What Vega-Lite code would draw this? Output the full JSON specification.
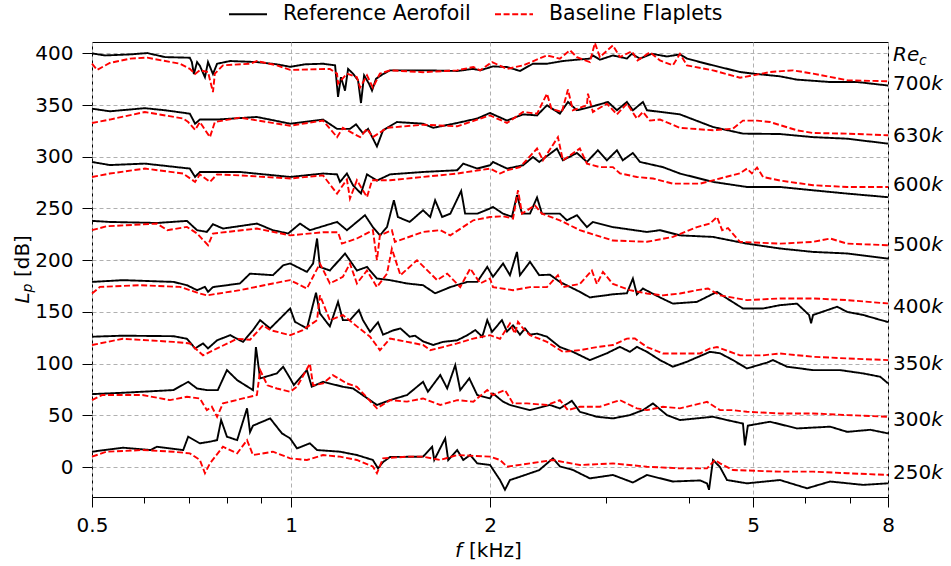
{
"$schema":"https://vega.github.io/schema/vega-lite/v6.json",
"width":796,"height":455,
"autosize":{"type":"none"},
"padding":{"left":92,"top":42,"right":63,"bottom":69},
"background":"white",
"config":{
 "font":"DejaVu Sans",
 "view":{"stroke":"#000000","strokeWidth":1},
 "axis":{"labelFont":"DejaVu Sans","labelFontSize":20,"labelColor":"#000000","tickColor":"#000000","tickWidth":1,"domain":false,"gridColor":"#b0b0b0","gridDash":[4,3],"gridWidth":1,"labelOverlap":false,"labelFlush":false},
 "axisX":{"tickSize":10,"labelPadding":8},
 "axisY":{"tickSize":10,"labelPadding":9}
},
"datasets":{
"d":[
{"s":"R","g":700,"f":0.5,"L":400},{"s":"R","g":700,"f":0.523,"L":398},{"s":"R","g":700,"f":0.571,"L":399},{"s":"R","g":700,"f":0.606,"L":400.3},{"s":"R","g":700,"f":0.645,"L":396.4},{"s":"R","g":700,"f":0.703,"L":395.8},{"s":"R","g":700,"f":0.708,"L":391.6},{"s":"R","g":700,"f":0.713,"L":380},{"s":"R","g":700,"f":0.721,"L":391.6},{"s":"R","g":700,"f":0.728,"L":388},{"s":"R","g":700,"f":0.741,"L":377},{"s":"R","g":700,"f":0.749,"L":391.6},{"s":"R","g":700,"f":0.762,"L":380},{"s":"R","g":700,"f":0.773,"L":390},{"s":"R","g":700,"f":0.809,"L":392.6},{"s":"R","g":700,"f":0.888,"L":391.6},{"s":"R","g":700,"f":0.952,"L":389.4},{"s":"R","g":700,"f":0.997,"L":387},{"s":"R","g":700,"f":1.05,"L":389.4},{"s":"R","g":700,"f":1.118,"L":390},{"s":"R","g":700,"f":1.166,"L":388.4},{"s":"R","g":700,"f":1.178,"L":358},{"s":"R","g":700,"f":1.19,"L":377},{"s":"R","g":700,"f":1.207,"L":364},{"s":"R","g":700,"f":1.22,"L":385},{"s":"R","g":700,"f":1.241,"L":380.4},{"s":"R","g":700,"f":1.263,"L":374},{"s":"R","g":700,"f":1.276,"L":352},{"s":"R","g":700,"f":1.29,"L":378.7},{"s":"R","g":700,"f":1.312,"L":370.7},{"s":"R","g":700,"f":1.326,"L":364},{"s":"R","g":700,"f":1.345,"L":375.5},{"s":"R","g":700,"f":1.378,"L":380},{"s":"R","g":700,"f":1.412,"L":383.6},{"s":"R","g":700,"f":1.584,"L":383.6},{"s":"R","g":700,"f":1.784,"L":383},{"s":"R","g":700,"f":1.887,"L":385},{"s":"R","g":700,"f":1.933,"L":383.6},{"s":"R","g":700,"f":2.021,"L":387.4},{"s":"R","g":700,"f":2.122,"L":386.8},{"s":"R","g":700,"f":2.22,"L":383},{"s":"R","g":700,"f":2.323,"L":390},{"s":"R","g":700,"f":2.439,"L":390},{"s":"R","g":700,"f":2.578,"L":392.6},{"s":"R","g":700,"f":2.707,"L":393.9},{"s":"R","g":700,"f":2.832,"L":394.9},{"s":"R","g":700,"f":2.862,"L":398},{"s":"R","g":700,"f":2.933,"L":393.9},{"s":"R","g":700,"f":3.069,"L":398},{"s":"R","g":700,"f":3.222,"L":395},{"s":"R","g":700,"f":3.278,"L":399.6},{"s":"R","g":700,"f":3.372,"L":394.9},{"s":"R","g":700,"f":3.515,"L":399.6},{"s":"R","g":700,"f":3.704,"L":397},{"s":"R","g":700,"f":3.876,"L":399},{"s":"R","g":700,"f":3.971,"L":395},{"s":"R","g":700,"f":4.157,"L":391.6},{"s":"R","g":700,"f":4.349,"L":388.4},{"s":"R","g":700,"f":4.777,"L":382},{"s":"R","g":700,"f":5.0,"L":380.4},{"s":"R","g":700,"f":5.492,"L":377.8},{"s":"R","g":700,"f":5.827,"L":374.6},{"s":"R","g":700,"f":6.54,"L":372.3},{"s":"R","g":700,"f":7.186,"L":372.3},{"s":"R","g":700,"f":7.977,"L":369},{"s":"R","g":700,"f":8,"L":369},
{"s":"B","g":700,"f":0.5,"L":390},{"s":"B","g":700,"f":0.509,"L":384},{"s":"B","g":700,"f":0.532,"L":390.7},{"s":"B","g":700,"f":0.571,"L":394.9},{"s":"B","g":700,"f":0.606,"L":395.9},{"s":"B","g":700,"f":0.64,"L":393},{"s":"B","g":700,"f":0.679,"L":390},{"s":"B","g":700,"f":0.703,"L":385},{"s":"B","g":700,"f":0.716,"L":380},{"s":"B","g":700,"f":0.728,"L":383.6},{"s":"B","g":700,"f":0.749,"L":382},{"s":"B","g":700,"f":0.762,"L":362.6},{"s":"B","g":700,"f":0.767,"L":380.4},{"s":"B","g":700,"f":0.789,"L":388.4},{"s":"B","g":700,"f":0.867,"L":390},{"s":"B","g":700,"f":0.888,"L":392.6},{"s":"B","g":700,"f":0.952,"L":388.4},{"s":"B","g":700,"f":0.997,"L":384},{"s":"B","g":700,"f":1.145,"L":385},{"s":"B","g":700,"f":1.174,"L":380.4},{"s":"B","g":700,"f":1.178,"L":370.7},{"s":"B","g":700,"f":1.215,"L":380.4},{"s":"B","g":700,"f":1.258,"L":377},{"s":"B","g":700,"f":1.272,"L":367},{"s":"B","g":700,"f":1.303,"L":378.7},{"s":"B","g":700,"f":1.33,"L":367},{"s":"B","g":700,"f":1.363,"L":380.4},{"s":"B","g":700,"f":1.412,"L":383.6},{"s":"B","g":700,"f":1.584,"L":381.8},{"s":"B","g":700,"f":1.784,"L":383.6},{"s":"B","g":700,"f":1.887,"L":386.8},{"s":"B","g":700,"f":1.933,"L":383.6},{"s":"B","g":700,"f":2.014,"L":391.6},{"s":"B","g":700,"f":2.122,"L":385},{"s":"B","g":700,"f":2.244,"L":388.4},{"s":"B","g":700,"f":2.439,"L":398},{"s":"B","g":700,"f":2.551,"L":394.9},{"s":"B","g":700,"f":2.642,"L":403},{"s":"B","g":700,"f":2.707,"L":396.4},{"s":"B","g":700,"f":2.832,"L":391.6},{"s":"B","g":700,"f":2.882,"L":410},{"s":"B","g":700,"f":2.933,"L":396.4},{"s":"B","g":700,"f":3.069,"L":407.7},{"s":"B","g":700,"f":3.144,"L":396.4},{"s":"B","g":700,"f":3.278,"L":402},{"s":"B","g":700,"f":3.344,"L":393.2},{"s":"B","g":700,"f":3.491,"L":401},{"s":"B","g":700,"f":3.615,"L":393.2},{"s":"B","g":700,"f":3.782,"L":388.4},{"s":"B","g":700,"f":3.876,"L":399.6},{"s":"B","g":700,"f":3.971,"L":388.4},{"s":"B","g":700,"f":4.349,"L":383.6},{"s":"B","g":700,"f":4.777,"L":376.5},{"s":"B","g":700,"f":5.0,"L":378.7},{"s":"B","g":700,"f":5.305,"L":382},{"s":"B","g":700,"f":5.747,"L":383.6},{"s":"B","g":700,"f":6.162,"L":380.4},{"s":"B","g":700,"f":6.94,"L":374},{"s":"B","g":700,"f":7.977,"L":373},{"s":"B","g":700,"f":8,"L":373},
{"s":"R","g":630,"f":0.5,"L":346.5},{"s":"R","g":630,"f":0.532,"L":344},{"s":"R","g":630,"f":0.601,"L":347},{"s":"R","g":630,"f":0.645,"L":345},{"s":"R","g":630,"f":0.703,"L":341.7},{"s":"R","g":630,"f":0.716,"L":332},{"s":"R","g":630,"f":0.728,"L":336},{"s":"R","g":630,"f":0.773,"L":336},{"s":"R","g":630,"f":0.888,"L":338.5},{"s":"R","g":630,"f":0.997,"L":332},{"s":"R","g":630,"f":1.118,"L":336},{"s":"R","g":630,"f":1.174,"L":327},{"s":"R","g":630,"f":1.228,"L":327},{"s":"R","g":630,"f":1.254,"L":331.4},{"s":"R","g":630,"f":1.285,"L":322.7},{"s":"R","g":630,"f":1.308,"L":327},{"s":"R","g":630,"f":1.349,"L":310},{"s":"R","g":630,"f":1.378,"L":325.6},{"s":"R","g":630,"f":1.446,"L":333.6},{"s":"R","g":630,"f":1.584,"L":332},{"s":"R","g":630,"f":1.641,"L":328},{"s":"R","g":630,"f":1.784,"L":332.7},{"s":"R","g":630,"f":1.913,"L":337},{"s":"R","g":630,"f":2.0,"L":342.4},{"s":"R","g":630,"f":2.122,"L":335},{"s":"R","g":630,"f":2.244,"L":341},{"s":"R","g":630,"f":2.356,"L":340},{"s":"R","g":630,"f":2.439,"L":349.8},{"s":"R","g":630,"f":2.551,"L":341.7},{"s":"R","g":630,"f":2.624,"L":353},{"s":"R","g":630,"f":2.707,"L":345},{"s":"R","g":630,"f":2.832,"L":348},{"s":"R","g":630,"f":3.016,"L":353},{"s":"R","g":630,"f":3.112,"L":345},{"s":"R","g":630,"f":3.222,"L":353},{"s":"R","g":630,"f":3.29,"L":345},{"s":"R","g":630,"f":3.407,"L":353},{"s":"R","g":630,"f":3.455,"L":345},{"s":"R","g":630,"f":3.876,"L":341},{"s":"R","g":630,"f":4.349,"L":328.8},{"s":"R","g":630,"f":4.827,"L":322.4},{"s":"R","g":630,"f":5.492,"L":322},{"s":"R","g":630,"f":6.162,"L":319},{"s":"R","g":630,"f":6.94,"L":317.5},{"s":"R","g":630,"f":7.977,"L":312.8},{"s":"R","g":630,"f":8,"L":312.5},
{"s":"B","g":630,"f":0.5,"L":332.7},{"s":"B","g":630,"f":0.532,"L":336},{"s":"B","g":630,"f":0.601,"L":343.3},{"s":"B","g":630,"f":0.687,"L":337},{"s":"B","g":630,"f":0.699,"L":333.6},{"s":"B","g":630,"f":0.716,"L":326},{"s":"B","g":630,"f":0.728,"L":333.6},{"s":"B","g":630,"f":0.754,"L":319},{"s":"B","g":630,"f":0.767,"L":333.6},{"s":"B","g":630,"f":0.837,"L":337.9},{"s":"B","g":630,"f":0.997,"L":330},{"s":"B","g":630,"f":1.118,"L":335},{"s":"B","g":630,"f":1.174,"L":319},{"s":"B","g":630,"f":1.198,"L":328},{"s":"B","g":630,"f":1.272,"L":319},{"s":"B","g":630,"f":1.303,"L":327},{"s":"B","g":630,"f":1.33,"L":319},{"s":"B","g":630,"f":1.397,"L":328},{"s":"B","g":630,"f":1.584,"L":331},{"s":"B","g":630,"f":1.784,"L":329.5},{"s":"B","g":630,"f":2.0,"L":340},{"s":"B","g":630,"f":2.122,"L":332.7},{"s":"B","g":630,"f":2.244,"L":343.3},{"s":"B","g":630,"f":2.356,"L":341.7},{"s":"B","g":630,"f":2.439,"L":361},{"s":"B","g":630,"f":2.477,"L":346.5},{"s":"B","g":630,"f":2.569,"L":343.3},{"s":"B","g":630,"f":2.624,"L":365},{"s":"B","g":630,"f":2.669,"L":345},{"s":"B","g":630,"f":2.803,"L":349.8},{"s":"B","g":630,"f":2.813,"L":361},{"s":"B","g":630,"f":2.862,"L":343.3},{"s":"B","g":630,"f":3.005,"L":351.4},{"s":"B","g":630,"f":3.112,"L":341},{"s":"B","g":630,"f":3.222,"L":351.4},{"s":"B","g":630,"f":3.336,"L":337},{"s":"B","g":630,"f":3.407,"L":343.3},{"s":"B","g":630,"f":3.491,"L":335},{"s":"B","g":630,"f":3.615,"L":336},{"s":"B","g":630,"f":3.876,"L":328},{"s":"B","g":630,"f":4.349,"L":325.6},{"s":"B","g":630,"f":4.662,"L":327.2},{"s":"B","g":630,"f":4.827,"L":335},{"s":"B","g":630,"f":5.07,"L":335},{"s":"B","g":630,"f":5.305,"L":333.6},{"s":"B","g":630,"f":5.827,"L":325.6},{"s":"B","g":630,"f":6.162,"L":323},{"s":"B","g":630,"f":6.94,"L":322.4},{"s":"B","g":630,"f":7.977,"L":320.8},{"s":"B","g":630,"f":8,"L":320.8},
{"s":"R","g":600,"f":0.5,"L":295},{"s":"R","g":600,"f":0.532,"L":292},{"s":"R","g":600,"f":0.601,"L":293.4},{"s":"R","g":600,"f":0.703,"L":288.6},{"s":"R","g":600,"f":0.716,"L":280.5},{"s":"R","g":600,"f":0.728,"L":285.3},{"s":"R","g":600,"f":0.837,"L":285.3},{"s":"R","g":600,"f":0.997,"L":280.5},{"s":"R","g":600,"f":1.118,"L":283.8},{"s":"R","g":600,"f":1.174,"L":283},{"s":"R","g":600,"f":1.186,"L":275.7},{"s":"R","g":600,"f":1.215,"L":283.8},{"s":"R","g":600,"f":1.241,"L":272.5},{"s":"R","g":600,"f":1.276,"L":264.5},{"s":"R","g":600,"f":1.303,"L":283},{"s":"R","g":600,"f":1.349,"L":277},{"s":"R","g":600,"f":1.412,"L":283},{"s":"R","g":600,"f":1.584,"L":285.3},{"s":"R","g":600,"f":1.784,"L":287},{"s":"R","g":600,"f":1.822,"L":293.4},{"s":"R","g":600,"f":1.913,"L":288.6},{"s":"R","g":600,"f":2.0,"L":291.8},{"s":"R","g":600,"f":2.021,"L":295},{"s":"R","g":600,"f":2.122,"L":288.6},{"s":"R","g":600,"f":2.244,"L":291.8},{"s":"R","g":600,"f":2.323,"L":299.8},{"s":"R","g":600,"f":2.374,"L":295},{"s":"R","g":600,"f":2.525,"L":307.9},{"s":"R","g":600,"f":2.578,"L":296.6},{"s":"R","g":600,"f":2.707,"L":303.7},{"s":"R","g":600,"f":2.803,"L":295},{"s":"R","g":600,"f":2.912,"L":306.3},{"s":"R","g":600,"f":3.005,"L":296.6},{"s":"R","g":600,"f":3.112,"L":306.3},{"s":"R","g":600,"f":3.176,"L":296.6},{"s":"R","g":600,"f":3.29,"L":303.7},{"s":"R","g":600,"f":3.372,"L":295},{"s":"R","g":600,"f":3.653,"L":290},{"s":"R","g":600,"f":3.876,"L":283.8},{"s":"R","g":600,"f":4.349,"L":275.7},{"s":"R","g":600,"f":4.895,"L":270.8},{"s":"R","g":600,"f":5.492,"L":270.8},{"s":"R","g":600,"f":6.162,"L":267.6},{"s":"R","g":600,"f":6.94,"L":264.4},{"s":"R","g":600,"f":7.977,"L":261},{"s":"R","g":600,"f":8,"L":261},
{"s":"B","g":600,"f":0.5,"L":280.5},{"s":"B","g":600,"f":0.532,"L":283.8},{"s":"B","g":600,"f":0.601,"L":288.6},{"s":"B","g":600,"f":0.687,"L":283.8},{"s":"B","g":600,"f":0.716,"L":275.7},{"s":"B","g":600,"f":0.728,"L":283},{"s":"B","g":600,"f":0.754,"L":275.7},{"s":"B","g":600,"f":0.773,"L":283},{"s":"B","g":600,"f":0.837,"L":282},{"s":"B","g":600,"f":0.997,"L":279},{"s":"B","g":600,"f":1.118,"L":282},{"s":"B","g":600,"f":1.174,"L":264.4},{"s":"B","g":600,"f":1.215,"L":278},{"s":"B","g":600,"f":1.228,"L":259.6},{"s":"B","g":600,"f":1.258,"L":277.3},{"s":"B","g":600,"f":1.303,"L":261},{"s":"B","g":600,"f":1.326,"L":277.3},{"s":"B","g":600,"f":1.412,"L":277.3},{"s":"B","g":600,"f":1.584,"L":280.5},{"s":"B","g":600,"f":1.784,"L":283.8},{"s":"B","g":600,"f":2.0,"L":288.6},{"s":"B","g":600,"f":2.071,"L":283.8},{"s":"B","g":600,"f":2.122,"L":287},{"s":"B","g":600,"f":2.22,"L":290},{"s":"B","g":600,"f":2.356,"L":308},{"s":"B","g":600,"f":2.405,"L":296.6},{"s":"B","g":600,"f":2.534,"L":319},{"s":"B","g":600,"f":2.578,"L":296.6},{"s":"B","g":600,"f":2.735,"L":308},{"s":"B","g":600,"f":2.803,"L":293.4},{"s":"B","g":600,"f":2.933,"L":290},{"s":"B","g":600,"f":3.069,"L":290},{"s":"B","g":600,"f":3.144,"L":284},{"s":"B","g":600,"f":3.336,"L":280.5},{"s":"B","g":600,"f":3.528,"L":279},{"s":"B","g":600,"f":3.782,"L":274},{"s":"B","g":600,"f":4.157,"L":274},{"s":"B","g":600,"f":4.456,"L":279},{"s":"B","g":600,"f":4.777,"L":284},{"s":"B","g":600,"f":4.895,"L":288.6},{"s":"B","g":600,"f":4.98,"L":284},{"s":"B","g":600,"f":5.07,"L":289.6},{"s":"B","g":600,"f":5.177,"L":280.5},{"s":"B","g":600,"f":5.492,"L":277},{"s":"B","g":600,"f":6.162,"L":272.5},{"s":"B","g":600,"f":6.94,"L":270.8},{"s":"B","g":600,"f":7.977,"L":270.8},{"s":"B","g":600,"f":8,"L":270.8},
{"s":"R","g":500,"f":0.5,"L":238},{"s":"R","g":500,"f":0.532,"L":237},{"s":"R","g":500,"f":0.627,"L":236},{"s":"R","g":500,"f":0.696,"L":238},{"s":"R","g":500,"f":0.721,"L":229},{"s":"R","g":500,"f":0.746,"L":227.4},{"s":"R","g":500,"f":0.762,"L":234.8},{"s":"R","g":500,"f":0.789,"L":230.6},{"s":"R","g":500,"f":0.888,"L":235.4},{"s":"R","g":500,"f":0.939,"L":229},{"s":"R","g":500,"f":0.99,"L":225.8},{"s":"R","g":500,"f":1.032,"L":235.4},{"s":"R","g":500,"f":1.068,"L":229},{"s":"R","g":500,"f":1.174,"L":237},{"s":"R","g":500,"f":1.215,"L":229},{"s":"R","g":500,"f":1.294,"L":243.5},{"s":"R","g":500,"f":1.33,"L":232},{"s":"R","g":500,"f":1.363,"L":224},{"s":"R","g":500,"f":1.397,"L":232},{"s":"R","g":500,"f":1.431,"L":258},{"s":"R","g":500,"f":1.451,"L":241.8},{"s":"R","g":500,"f":1.512,"L":237},{"s":"R","g":500,"f":1.584,"L":248.3},{"s":"R","g":500,"f":1.624,"L":241.8},{"s":"R","g":500,"f":1.652,"L":258},{"s":"R","g":500,"f":1.693,"L":241.8},{"s":"R","g":500,"f":1.742,"L":245},{"s":"R","g":500,"f":1.809,"L":267},{"s":"R","g":500,"f":1.834,"L":245},{"s":"R","g":500,"f":1.913,"L":245},{"s":"R","g":500,"f":2.0,"L":250},{"s":"R","g":500,"f":2.021,"L":251.5},{"s":"R","g":500,"f":2.093,"L":245},{"s":"R","g":500,"f":2.159,"L":242},{"s":"R","g":500,"f":2.197,"L":262.8},{"s":"R","g":500,"f":2.236,"L":245},{"s":"R","g":500,"f":2.299,"L":245},{"s":"R","g":500,"f":2.356,"L":260.6},{"s":"R","g":500,"f":2.397,"L":245},{"s":"R","g":500,"f":2.551,"L":245},{"s":"R","g":500,"f":2.614,"L":238.6},{"s":"R","g":500,"f":2.707,"L":243.5},{"s":"R","g":500,"f":2.803,"L":232},{"s":"R","g":500,"f":2.862,"L":237},{"s":"R","g":500,"f":3.069,"L":232},{"s":"R","g":500,"f":3.455,"L":227.3},{"s":"R","g":500,"f":3.615,"L":229},{"s":"R","g":500,"f":3.876,"L":224},{"s":"R","g":500,"f":4.349,"L":222.5},{"s":"R","g":500,"f":4.895,"L":216},{"s":"R","g":500,"f":5.492,"L":211.3},{"s":"R","g":500,"f":6.162,"L":208},{"s":"R","g":500,"f":6.94,"L":206.5},{"s":"R","g":500,"f":7.977,"L":201.6},{"s":"R","g":500,"f":8,"L":201.6},
{"s":"B","g":500,"f":0.5,"L":229},{"s":"B","g":500,"f":0.526,"L":232.8},{"s":"B","g":500,"f":0.627,"L":235.4},{"s":"B","g":500,"f":0.65,"L":229},{"s":"B","g":500,"f":0.696,"L":232.2},{"s":"B","g":500,"f":0.721,"L":225.8},{"s":"B","g":500,"f":0.749,"L":214.5},{"s":"B","g":500,"f":0.762,"L":225.8},{"s":"B","g":500,"f":0.888,"L":230.6},{"s":"B","g":500,"f":0.997,"L":224},{"s":"B","g":500,"f":1.118,"L":227},{"s":"B","g":500,"f":1.178,"L":227},{"s":"B","g":500,"f":1.194,"L":216},{"s":"B","g":500,"f":1.258,"L":221},{"s":"B","g":500,"f":1.33,"L":229},{"s":"B","g":500,"f":1.349,"L":200},{"s":"B","g":500,"f":1.363,"L":224},{"s":"B","g":500,"f":1.421,"L":229},{"s":"B","g":500,"f":1.436,"L":217.7},{"s":"B","g":500,"f":1.584,"L":227.3},{"s":"B","g":500,"f":1.682,"L":229},{"s":"B","g":500,"f":1.742,"L":224},{"s":"B","g":500,"f":1.887,"L":238.6},{"s":"B","g":500,"f":2.0,"L":241.8},{"s":"B","g":500,"f":2.093,"L":242.5},{"s":"B","g":500,"f":2.167,"L":240.3},{"s":"B","g":500,"f":2.205,"L":267.6},{"s":"B","g":500,"f":2.236,"L":245},{"s":"B","g":500,"f":2.339,"L":253},{"s":"B","g":500,"f":2.397,"L":245},{"s":"B","g":500,"f":2.551,"L":238.6},{"s":"B","g":500,"f":2.735,"L":229},{"s":"B","g":500,"f":3.069,"L":219},{"s":"B","g":500,"f":3.455,"L":217.8},{"s":"B","g":500,"f":3.782,"L":222.5},{"s":"B","g":500,"f":4.113,"L":232},{"s":"B","g":500,"f":4.304,"L":235.4},{"s":"B","g":500,"f":4.41,"L":241.8},{"s":"B","g":500,"f":4.49,"L":229},{"s":"B","g":500,"f":4.582,"L":231},{"s":"B","g":500,"f":4.777,"L":217.7},{"s":"B","g":500,"f":5.492,"L":216},{"s":"B","g":500,"f":6.162,"L":217.7},{"s":"B","g":500,"f":6.54,"L":221},{"s":"B","g":500,"f":6.94,"L":216},{"s":"B","g":500,"f":7.977,"L":214.5},{"s":"B","g":500,"f":8,"L":214.5},
{"s":"R","g":400,"f":0.5,"L":179},{"s":"R","g":400,"f":0.557,"L":180.7},{"s":"R","g":400,"f":0.664,"L":179},{"s":"R","g":400,"f":0.696,"L":175.8},{"s":"R","g":400,"f":0.721,"L":171},{"s":"R","g":400,"f":0.741,"L":174.2},{"s":"R","g":400,"f":0.749,"L":169.4},{"s":"R","g":400,"f":0.762,"L":174},{"s":"R","g":400,"f":0.837,"L":177.5},{"s":"R","g":400,"f":0.867,"L":187},{"s":"R","g":400,"f":0.939,"L":185.5},{"s":"R","g":400,"f":0.973,"L":195},{"s":"R","g":400,"f":0.997,"L":196.8},{"s":"R","g":400,"f":1.057,"L":188.7},{"s":"R","g":400,"f":1.08,"L":196.8},{"s":"R","g":400,"f":1.095,"L":221},{"s":"R","g":400,"f":1.106,"L":193.5},{"s":"R","g":400,"f":1.145,"L":190},{"s":"R","g":400,"f":1.207,"L":206.5},{"s":"R","g":400,"f":1.258,"L":190},{"s":"R","g":400,"f":1.303,"L":193.5},{"s":"R","g":400,"f":1.349,"L":182.3},{"s":"R","g":400,"f":1.412,"L":180.7},{"s":"R","g":400,"f":1.498,"L":177.5},{"s":"R","g":400,"f":1.584,"L":175.8},{"s":"R","g":400,"f":1.652,"L":168},{"s":"R","g":400,"f":1.742,"L":174},{"s":"R","g":400,"f":1.848,"L":179},{"s":"R","g":400,"f":1.913,"L":179},{"s":"R","g":400,"f":1.981,"L":193.5},{"s":"R","g":400,"f":2.021,"L":183.9},{"s":"R","g":400,"f":2.093,"L":196.8},{"s":"R","g":400,"f":2.144,"L":185.5},{"s":"R","g":400,"f":2.197,"L":208},{"s":"R","g":400,"f":2.22,"L":185.5},{"s":"R","g":400,"f":2.299,"L":198.4},{"s":"R","g":400,"f":2.374,"L":185.5},{"s":"R","g":400,"f":2.464,"L":186},{"s":"R","g":400,"f":2.551,"L":179},{"s":"R","g":400,"f":2.735,"L":169.4},{"s":"R","g":400,"f":2.832,"L":164},{"s":"R","g":400,"f":3.069,"L":167},{"s":"R","g":400,"f":3.222,"L":168},{"s":"R","g":400,"f":3.29,"L":182.3},{"s":"R","g":400,"f":3.336,"L":167},{"s":"R","g":400,"f":3.407,"L":172.6},{"s":"R","g":400,"f":3.615,"L":164},{"s":"R","g":400,"f":3.782,"L":158},{"s":"R","g":400,"f":4.113,"L":159.7},{"s":"R","g":400,"f":4.41,"L":169.4},{"s":"R","g":400,"f":4.566,"L":163},{"s":"R","g":400,"f":4.827,"L":153.3},{"s":"R","g":400,"f":5.177,"L":153.3},{"s":"R","g":400,"f":5.492,"L":156.5},{"s":"R","g":400,"f":5.827,"L":158},{"s":"R","g":400,"f":6.077,"L":147},{"s":"R","g":400,"f":6.12,"L":139},{"s":"R","g":400,"f":6.162,"L":147},{"s":"R","g":400,"f":6.702,"L":155},{"s":"R","g":400,"f":6.94,"L":150},{"s":"R","g":400,"f":7.338,"L":147},{"s":"R","g":400,"f":7.977,"L":140.4},{"s":"R","g":400,"f":8,"L":140},
{"s":"B","g":400,"f":0.5,"L":167.8},{"s":"B","g":400,"f":0.514,"L":174.2},{"s":"B","g":400,"f":0.592,"L":175.8},{"s":"B","g":400,"f":0.679,"L":174.2},{"s":"B","g":400,"f":0.728,"L":167.8},{"s":"B","g":400,"f":0.746,"L":166},{"s":"B","g":400,"f":0.837,"L":171},{"s":"B","g":400,"f":0.939,"L":177.5},{"s":"B","g":400,"f":0.997,"L":180.7},{"s":"B","g":400,"f":1.057,"L":172.6},{"s":"B","g":400,"f":1.106,"L":196.8},{"s":"B","g":400,"f":1.145,"L":177.5},{"s":"B","g":400,"f":1.198,"L":183.9},{"s":"B","g":400,"f":1.228,"L":196.8},{"s":"B","g":400,"f":1.258,"L":177.5},{"s":"B","g":400,"f":1.303,"L":190},{"s":"B","g":400,"f":1.349,"L":174},{"s":"B","g":400,"f":1.397,"L":187},{"s":"B","g":400,"f":1.421,"L":211},{"s":"B","g":400,"f":1.464,"L":185.5},{"s":"B","g":400,"f":1.551,"L":200},{"s":"B","g":400,"f":1.664,"L":180.7},{"s":"B","g":400,"f":1.723,"L":187},{"s":"B","g":400,"f":1.803,"L":174},{"s":"B","g":400,"f":1.867,"L":192},{"s":"B","g":400,"f":1.933,"L":177.5},{"s":"B","g":400,"f":2.0,"L":182.3},{"s":"B","g":400,"f":2.021,"L":174},{"s":"B","g":400,"f":2.167,"L":171},{"s":"B","g":400,"f":2.299,"L":174},{"s":"B","g":400,"f":2.439,"L":174},{"s":"B","g":400,"f":2.534,"L":185.5},{"s":"B","g":400,"f":2.578,"L":174},{"s":"B","g":400,"f":2.735,"L":177},{"s":"B","g":400,"f":2.852,"L":190},{"s":"B","g":400,"f":2.902,"L":177},{"s":"B","g":400,"f":2.964,"L":188.7},{"s":"B","g":400,"f":3.069,"L":177},{"s":"B","g":400,"f":3.256,"L":171},{"s":"B","g":400,"f":3.455,"L":167.8},{"s":"B","g":400,"f":3.653,"L":166},{"s":"B","g":400,"f":3.876,"L":167.8},{"s":"B","g":400,"f":4.113,"L":171},{"s":"B","g":400,"f":4.274,"L":172.6},{"s":"B","g":400,"f":4.456,"L":166},{"s":"B","g":400,"f":4.895,"L":161.4},{"s":"B","g":400,"f":5.492,"L":163},{"s":"B","g":400,"f":6.162,"L":163},{"s":"B","g":400,"f":6.94,"L":161.4},{"s":"B","g":400,"f":7.977,"L":158.2},{"s":"B","g":400,"f":8,"L":158.2},
{"s":"R","g":350,"f":0.5,"L":126},{"s":"R","g":350,"f":0.557,"L":127},{"s":"R","g":350,"f":0.664,"L":126.5},{"s":"R","g":350,"f":0.696,"L":124},{"s":"R","g":350,"f":0.716,"L":114.7},{"s":"R","g":350,"f":0.736,"L":119.5},{"s":"R","g":350,"f":0.749,"L":114.7},{"s":"R","g":350,"f":0.773,"L":122.5},{"s":"R","g":350,"f":0.809,"L":127.5},{"s":"R","g":350,"f":0.846,"L":121},{"s":"R","g":350,"f":0.876,"L":132.4},{"s":"R","g":350,"f":0.898,"L":142},{"s":"R","g":350,"f":0.93,"L":134},{"s":"R","g":350,"f":0.997,"L":153.3},{"s":"R","g":350,"f":1.014,"L":140.4},{"s":"R","g":350,"f":1.057,"L":134},{"s":"R","g":350,"f":1.091,"L":168.5},{"s":"R","g":350,"f":1.106,"L":148.5},{"s":"R","g":350,"f":1.145,"L":136},{"s":"R","g":350,"f":1.178,"L":159.7},{"s":"R","g":350,"f":1.198,"L":142},{"s":"R","g":350,"f":1.228,"L":142},{"s":"R","g":350,"f":1.267,"L":151.7},{"s":"R","g":350,"f":1.285,"L":142},{"s":"R","g":350,"f":1.317,"L":130.7},{"s":"R","g":350,"f":1.354,"L":140},{"s":"R","g":350,"f":1.378,"L":128},{"s":"R","g":350,"f":1.426,"L":132},{"s":"R","g":350,"f":1.464,"L":134},{"s":"R","g":350,"f":1.512,"L":126},{"s":"R","g":350,"f":1.54,"L":127},{"s":"R","g":350,"f":1.584,"L":121.5},{"s":"R","g":350,"f":1.641,"L":118},{"s":"R","g":350,"f":1.697,"L":121},{"s":"R","g":350,"f":1.784,"L":122.5},{"s":"R","g":350,"f":1.848,"L":127.5},{"s":"R","g":350,"f":1.9,"L":132.4},{"s":"R","g":350,"f":1.947,"L":126},{"s":"R","g":350,"f":1.981,"L":142},{"s":"R","g":350,"f":2.014,"L":130.7},{"s":"R","g":350,"f":2.085,"L":142},{"s":"R","g":350,"f":2.122,"L":131},{"s":"R","g":350,"f":2.167,"L":137},{"s":"R","g":350,"f":2.22,"L":128},{"s":"R","g":350,"f":2.259,"L":134},{"s":"R","g":350,"f":2.299,"L":128},{"s":"R","g":350,"f":2.356,"L":129},{"s":"R","g":350,"f":2.439,"L":126},{"s":"R","g":350,"f":2.551,"L":116},{"s":"R","g":350,"f":2.669,"L":111.4},{"s":"R","g":350,"f":2.832,"L":103.4},{"s":"R","g":350,"f":3.005,"L":110},{"s":"R","g":350,"f":3.144,"L":116.2},{"s":"R","g":350,"f":3.256,"L":111.4},{"s":"R","g":350,"f":3.336,"L":116.2},{"s":"R","g":350,"f":3.455,"L":111.4},{"s":"R","g":350,"f":3.615,"L":103.4},{"s":"R","g":350,"f":3.782,"L":97},{"s":"R","g":350,"f":3.971,"L":101.8},{"s":"R","g":350,"f":4.304,"L":111.4},{"s":"R","g":350,"f":4.456,"L":110},{"s":"R","g":350,"f":4.662,"L":103.4},{"s":"R","g":350,"f":4.895,"L":95.3},{"s":"R","g":350,"f":5.25,"L":101},{"s":"R","g":350,"f":5.36,"L":103.4},{"s":"R","g":350,"f":5.628,"L":97},{"s":"R","g":350,"f":6.162,"L":93.7},{"s":"R","g":350,"f":6.772,"L":93.7},{"s":"R","g":350,"f":7.338,"L":90.5},{"s":"R","g":350,"f":7.786,"L":87.3},{"s":"R","g":350,"f":8,"L":80.9},
{"s":"B","g":350,"f":0.5,"L":118},{"s":"B","g":350,"f":0.557,"L":124},{"s":"B","g":350,"f":0.664,"L":121},{"s":"B","g":350,"f":0.703,"L":119.5},{"s":"B","g":350,"f":0.736,"L":108},{"s":"B","g":350,"f":0.773,"L":114.7},{"s":"B","g":350,"f":0.829,"L":124},{"s":"B","g":350,"f":0.867,"L":123},{"s":"B","g":350,"f":0.907,"L":137},{"s":"B","g":350,"f":0.93,"L":132.4},{"s":"B","g":350,"f":0.997,"L":127.5},{"s":"B","g":350,"f":1.042,"L":132.4},{"s":"B","g":350,"f":1.095,"L":142},{"s":"B","g":350,"f":1.106,"L":166},{"s":"B","g":350,"f":1.145,"L":142},{"s":"B","g":350,"f":1.198,"L":147},{"s":"B","g":350,"f":1.258,"L":136},{"s":"B","g":350,"f":1.317,"L":126},{"s":"B","g":350,"f":1.363,"L":113},{"s":"B","g":350,"f":1.412,"L":124.2},{"s":"B","g":350,"f":1.584,"L":118},{"s":"B","g":350,"f":1.624,"L":113},{"s":"B","g":350,"f":1.697,"L":116},{"s":"B","g":350,"f":1.784,"L":119.5},{"s":"B","g":350,"f":1.887,"L":124.2},{"s":"B","g":350,"f":2.0,"L":127.5},{"s":"B","g":350,"f":2.071,"L":124},{"s":"B","g":350,"f":2.144,"L":138.8},{"s":"B","g":350,"f":2.182,"L":129},{"s":"B","g":350,"f":2.205,"L":140.4},{"s":"B","g":350,"f":2.244,"L":134},{"s":"B","g":350,"f":2.299,"L":127.5},{"s":"B","g":350,"f":2.439,"L":121},{"s":"B","g":350,"f":2.578,"L":111.4},{"s":"B","g":350,"f":2.735,"L":113},{"s":"B","g":350,"f":2.902,"L":116},{"s":"B","g":350,"f":3.069,"L":118},{"s":"B","g":350,"f":3.222,"L":124.2},{"s":"B","g":350,"f":3.313,"L":124.3},{"s":"B","g":350,"f":3.455,"L":116},{"s":"B","g":350,"f":3.653,"L":109.8},{"s":"B","g":350,"f":4.157,"L":109.8},{"s":"B","g":350,"f":4.304,"L":114.7},{"s":"B","g":350,"f":4.41,"L":116},{"s":"B","g":350,"f":4.777,"L":108},{"s":"B","g":350,"f":5.177,"L":108},{"s":"B","g":350,"f":5.492,"L":109.8},{"s":"B","g":350,"f":6.162,"L":106.6},{"s":"B","g":350,"f":6.94,"L":105},{"s":"B","g":350,"f":8,"L":103.4},
{"s":"R","g":300,"f":0.5,"L":70.5},{"s":"R","g":300,"f":0.557,"L":71.8},{"s":"R","g":300,"f":0.664,"L":74.4},{"s":"R","g":300,"f":0.699,"L":82.4},{"s":"R","g":300,"f":0.721,"L":75.9},{"s":"R","g":300,"f":0.746,"L":74.4},{"s":"R","g":300,"f":0.775,"L":74.4},{"s":"R","g":300,"f":0.8,"L":93.7},{"s":"R","g":300,"f":0.829,"L":84},{"s":"R","g":300,"f":0.876,"L":74.4},{"s":"R","g":300,"f":0.885,"L":116},{"s":"R","g":300,"f":0.898,"L":85.7},{"s":"R","g":300,"f":0.952,"L":90.5},{"s":"R","g":300,"f":0.973,"L":97},{"s":"R","g":300,"f":0.997,"L":85.7},{"s":"R","g":300,"f":1.01,"L":79.2},{"s":"R","g":300,"f":1.057,"L":93.7},{"s":"R","g":300,"f":1.075,"L":77.6},{"s":"R","g":300,"f":1.118,"L":82.4},{"s":"R","g":300,"f":1.198,"L":77.6},{"s":"R","g":300,"f":1.241,"L":76},{"s":"R","g":300,"f":1.349,"L":60},{"s":"R","g":300,"f":1.412,"L":64.7},{"s":"R","g":300,"f":1.498,"L":69.6},{"s":"R","g":300,"f":1.584,"L":82.4},{"s":"R","g":300,"f":1.611,"L":72.8},{"s":"R","g":300,"f":1.682,"L":88.9},{"s":"R","g":300,"f":1.723,"L":76},{"s":"R","g":300,"f":1.772,"L":98.5},{"s":"R","g":300,"f":1.803,"L":74.4},{"s":"R","g":300,"f":1.861,"L":85.7},{"s":"R","g":300,"f":1.913,"L":69.6},{"s":"R","g":300,"f":2.0,"L":66.3},{"s":"R","g":300,"f":2.021,"L":71},{"s":"R","g":300,"f":2.093,"L":63.2},{"s":"R","g":300,"f":2.144,"L":60},{"s":"R","g":300,"f":2.299,"L":55},{"s":"R","g":300,"f":2.464,"L":60},{"s":"R","g":300,"f":2.551,"L":56.7},{"s":"R","g":300,"f":2.66,"L":64},{"s":"R","g":300,"f":2.735,"L":53.4},{"s":"R","g":300,"f":2.902,"L":48.6},{"s":"R","g":300,"f":3.069,"L":47},{"s":"R","g":300,"f":3.256,"L":50.2},{"s":"R","g":300,"f":3.407,"L":55},{"s":"R","g":300,"f":3.528,"L":61.5},{"s":"R","g":300,"f":3.704,"L":50.2},{"s":"R","g":300,"f":3.876,"L":45.4},{"s":"R","g":300,"f":4.349,"L":48.6},{"s":"R","g":300,"f":4.566,"L":45.4},{"s":"R","g":300,"f":4.827,"L":42},{"s":"R","g":300,"f":4.86,"L":21},{"s":"R","g":300,"f":4.91,"L":40},{"s":"R","g":300,"f":5.305,"L":43.8},{"s":"R","g":300,"f":5.827,"L":37.3},{"s":"R","g":300,"f":6.54,"L":39},{"s":"R","g":300,"f":6.94,"L":34},{"s":"R","g":300,"f":7.52,"L":36},{"s":"R","g":300,"f":8,"L":32.5},
{"s":"B","g":300,"f":0.5,"L":64.7},{"s":"B","g":300,"f":0.518,"L":69.6},{"s":"B","g":300,"f":0.596,"L":69.6},{"s":"B","g":300,"f":0.656,"L":64.7},{"s":"B","g":300,"f":0.696,"L":67.9},{"s":"B","g":300,"f":0.728,"L":66.3},{"s":"B","g":300,"f":0.746,"L":55},{"s":"B","g":300,"f":0.759,"L":58.3},{"s":"B","g":300,"f":0.773,"L":48.6},{"s":"B","g":300,"f":0.789,"L":61.5},{"s":"B","g":300,"f":0.846,"L":66.3},{"s":"B","g":300,"f":0.888,"L":69.6},{"s":"B","g":300,"f":0.898,"L":93.7},{"s":"B","g":300,"f":0.921,"L":79},{"s":"B","g":300,"f":0.952,"L":75.9},{"s":"B","g":300,"f":0.997,"L":72.8},{"s":"B","g":300,"f":1.021,"L":77.6},{"s":"B","g":300,"f":1.068,"L":100},{"s":"B","g":300,"f":1.08,"L":79},{"s":"B","g":300,"f":1.118,"L":80.8},{"s":"B","g":300,"f":1.157,"L":88.9},{"s":"B","g":300,"f":1.215,"L":80.8},{"s":"B","g":300,"f":1.258,"L":77.6},{"s":"B","g":300,"f":1.349,"L":56.7},{"s":"B","g":300,"f":1.412,"L":64.7},{"s":"B","g":300,"f":1.498,"L":63.2},{"s":"B","g":300,"f":1.584,"L":66.3},{"s":"B","g":300,"f":1.682,"L":60},{"s":"B","g":300,"f":1.784,"L":64.7},{"s":"B","g":300,"f":1.887,"L":63.2},{"s":"B","g":300,"f":1.981,"L":74.4},{"s":"B","g":300,"f":2.021,"L":69.6},{"s":"B","g":300,"f":2.107,"L":74.4},{"s":"B","g":300,"f":2.167,"L":61.5},{"s":"B","g":300,"f":2.275,"L":61.5},{"s":"B","g":300,"f":2.439,"L":60},{"s":"B","g":300,"f":2.551,"L":64.7},{"s":"B","g":300,"f":2.624,"L":55},{"s":"B","g":300,"f":2.735,"L":58.3},{"s":"B","g":300,"f":2.933,"L":58.3},{"s":"B","g":300,"f":3.144,"L":64.7},{"s":"B","g":300,"f":3.336,"L":56.7},{"s":"B","g":300,"f":3.455,"L":55},{"s":"B","g":300,"f":3.653,"L":58.3},{"s":"B","g":300,"f":3.876,"L":56.7},{"s":"B","g":300,"f":4.07,"L":60},{"s":"B","g":300,"f":4.259,"L":63},{"s":"B","g":300,"f":4.456,"L":55},{"s":"B","g":300,"f":4.662,"L":55},{"s":"B","g":300,"f":4.895,"L":53.4},{"s":"B","g":300,"f":5.492,"L":51.8},{"s":"B","g":300,"f":6.162,"L":51.8},{"s":"B","g":300,"f":6.94,"L":50.2},{"s":"B","g":300,"f":8,"L":48.6},
{"s":"R","g":250,"f":0.5,"L":14.8},{"s":"R","g":250,"f":0.557,"L":18.7},{"s":"R","g":250,"f":0.613,"L":16.4},{"s":"R","g":250,"f":0.627,"L":19.6},{"s":"R","g":250,"f":0.687,"L":16.4},{"s":"R","g":250,"f":0.699,"L":29.3},{"s":"R","g":250,"f":0.728,"L":22.9},{"s":"R","g":250,"f":0.754,"L":24.5},{"s":"R","g":250,"f":0.773,"L":26},{"s":"R","g":250,"f":0.784,"L":45.4},{"s":"R","g":250,"f":0.8,"L":29.3},{"s":"R","g":250,"f":0.829,"L":26},{"s":"R","g":250,"f":0.858,"L":56.7},{"s":"R","g":250,"f":0.867,"L":33.8},{"s":"R","g":250,"f":0.876,"L":40},{"s":"R","g":250,"f":0.93,"L":47},{"s":"R","g":250,"f":0.969,"L":32.5},{"s":"R","g":250,"f":0.997,"L":27.7},{"s":"R","g":250,"f":1.021,"L":18},{"s":"R","g":250,"f":1.068,"L":22.9},{"s":"R","g":250,"f":1.095,"L":16.4},{"s":"R","g":250,"f":1.186,"L":14.8},{"s":"R","g":250,"f":1.258,"L":11.6},{"s":"R","g":250,"f":1.33,"L":6.8},{"s":"R","g":250,"f":1.354,"L":-1.3},{"s":"R","g":250,"f":1.378,"L":4.8},{"s":"R","g":250,"f":1.412,"L":9.7},{"s":"R","g":250,"f":1.584,"L":10},{"s":"R","g":250,"f":1.635,"L":19.6},{"s":"R","g":250,"f":1.647,"L":6.8},{"s":"R","g":250,"f":1.711,"L":27.7},{"s":"R","g":250,"f":1.729,"L":6.8},{"s":"R","g":250,"f":1.784,"L":16.4},{"s":"R","g":250,"f":1.822,"L":6.8},{"s":"R","g":250,"f":1.867,"L":11.6},{"s":"R","g":250,"f":1.913,"L":3.5},{"s":"R","g":250,"f":2.0,"L":2},{"s":"R","g":250,"f":2.071,"L":-12.6},{"s":"R","g":250,"f":2.107,"L":-22},{"s":"R","g":250,"f":2.144,"L":-12.6},{"s":"R","g":250,"f":2.22,"L":-9.4},{"s":"R","g":250,"f":2.374,"L":-3},{"s":"R","g":250,"f":2.49,"L":8.4},{"s":"R","g":250,"f":2.551,"L":0.6},{"s":"R","g":250,"f":2.669,"L":-2.8},{"s":"R","g":250,"f":2.832,"L":-11},{"s":"R","g":250,"f":3.069,"L":-7.7},{"s":"R","g":250,"f":3.29,"L":-15},{"s":"R","g":250,"f":3.455,"L":-7.7},{"s":"R","g":250,"f":3.782,"L":-14},{"s":"R","g":250,"f":4.157,"L":-13},{"s":"R","g":250,"f":4.259,"L":-15.8},{"s":"R","g":250,"f":4.289,"L":-22},{"s":"R","g":250,"f":4.349,"L":6.8},{"s":"R","g":250,"f":4.456,"L":0},{"s":"R","g":250,"f":4.566,"L":-12.6},{"s":"R","g":250,"f":4.895,"L":-15.8},{"s":"R","g":250,"f":5.492,"L":-12.6},{"s":"R","g":250,"f":6.035,"L":-20.6},{"s":"R","g":250,"f":6.54,"L":-14},{"s":"R","g":250,"f":7.338,"L":-17.3},{"s":"R","g":250,"f":8,"L":-15.8},
{"s":"B","g":250,"f":0.5,"L":10},{"s":"B","g":250,"f":0.526,"L":14.8},{"s":"B","g":250,"f":0.596,"L":16.4},{"s":"B","g":250,"f":0.664,"L":14.8},{"s":"B","g":250,"f":0.703,"L":13.2},{"s":"B","g":250,"f":0.728,"L":6.8},{"s":"B","g":250,"f":0.741,"L":-6},{"s":"B","g":250,"f":0.754,"L":3.5},{"s":"B","g":250,"f":0.789,"L":19.6},{"s":"B","g":250,"f":0.829,"L":13.2},{"s":"B","g":250,"f":0.858,"L":26},{"s":"B","g":250,"f":0.876,"L":11.6},{"s":"B","g":250,"f":0.939,"L":14.8},{"s":"B","g":250,"f":0.997,"L":8.4},{"s":"B","g":250,"f":1.057,"L":6.8},{"s":"B","g":250,"f":1.118,"L":11.6},{"s":"B","g":250,"f":1.186,"L":10},{"s":"B","g":250,"f":1.258,"L":6.8},{"s":"B","g":250,"f":1.33,"L":0.5},{"s":"B","g":250,"f":1.349,"L":-6},{"s":"B","g":250,"f":1.378,"L":8.4},{"s":"B","g":250,"f":1.498,"L":10},{"s":"B","g":250,"f":1.584,"L":10},{"s":"B","g":250,"f":1.682,"L":6.8},{"s":"B","g":250,"f":1.784,"L":11.6},{"s":"B","g":250,"f":2.0,"L":10},{"s":"B","g":250,"f":2.071,"L":6.8},{"s":"B","g":250,"f":2.122,"L":0.3},{"s":"B","g":250,"f":2.299,"L":3.5},{"s":"B","g":250,"f":2.49,"L":6.8},{"s":"B","g":250,"f":2.735,"L":1.9},{"s":"B","g":250,"f":3.069,"L":3.5},{"s":"B","g":250,"f":3.455,"L":0.3},{"s":"B","g":250,"f":3.876,"L":-1.3},{"s":"B","g":250,"f":4.259,"L":-1.3},{"s":"B","g":250,"f":4.379,"L":6.8},{"s":"B","g":250,"f":4.456,"L":3.5},{"s":"B","g":250,"f":4.662,"L":-2.9},{"s":"B","g":250,"f":5.492,"L":-4.5},{"s":"B","g":250,"f":6.162,"L":-4.5},{"s":"B","g":250,"f":6.94,"L":-6},{"s":"B","g":250,"f":8,"L":-7.7}
],
"lab":[{"t":"700","L":370.7},{"t":"630","L":320},{"t":"600","L":272.5},{"t":"500","L":214.5},{"t":"400","L":155},{"t":"350","L":100},{"t":"300","L":45},{"t":"250","L":-6}]
},
"layer":[
{"data":{"name":"d"},"transform":[{"filter":"datum.s == 'R'"}],
 "mark":{"type":"line","strokeWidth":1.9},
 "encoding":{
  "x":{"field":"f","type":"quantitative","scale":{"type":"log","domain":[0.5,8],"nice":false},"axis":{"orient":"bottom","values":[0.5,1,2,5,8],"format":"~g","grid":true,"title":null}},
  "y":{"field":"L","type":"quantitative","scale":{"domain":[-29,411],"nice":false,"zero":false},"axis":{"values":[0,50,100,150,200,250,300,350,400],"grid":true,"title":null}},
  "detail":{"field":"g","type":"nominal"},
  "color":{"field":"s","type":"nominal","scale":{"domain":["R","B"],"range":["#000000","#ff0000"]},"legend":{"orient":"none","legendX":136,"legendY":-48,"direction":"horizontal","title":null,"symbolType":"stroke","symbolSize":1444,"symbolStrokeWidth":1.9,"labelFontSize":20.5,"labelFont":"DejaVu Sans","labelColor":"#000000","labelOffset":15,"labelLimit":400,"columnPadding":20,"padding":0,"labelExpr":"datum.value == 'R' ? 'Reference Aerofoil' : 'Baseline Flaplets'"}},
  "strokeDash":{"field":"s","type":"nominal","scale":{"domain":["R","B"],"range":[[1,0],[6,2.6]]},"legend":{"orient":"none","legendX":136,"legendY":-48,"direction":"horizontal","title":null,"symbolType":"stroke","symbolSize":1444,"symbolStrokeWidth":1.9,"labelFontSize":20.5,"labelFont":"DejaVu Sans","labelColor":"#000000","labelOffset":15,"labelLimit":400,"columnPadding":20,"padding":0,"labelExpr":"datum.value == 'R' ? 'Reference Aerofoil' : 'Baseline Flaplets'"}}
 }},
{"data":{"name":"d"},"transform":[{"filter":"datum.s == 'B'"}],
 "mark":{"type":"line","strokeWidth":1.9},
 "encoding":{
  "x":{"field":"f","type":"quantitative","axis":{"orient":"bottom","values":[0.6,0.7,0.8,0.9,3,4,6,7],"labels":false,"grid":false,"tickSize":6,"title":null}},
  "y":{"field":"L","type":"quantitative"},
  "detail":{"field":"g","type":"nominal"},
  "color":{"field":"s","type":"nominal"},
  "strokeDash":{"field":"s","type":"nominal"}
 }},
{"data":{"name":"lab"},"mark":{"type":"text","align":"left","baseline":"middle","dx":5,"fontSize":20,"font":"DejaVu Sans","color":"#000000"},
 "encoding":{"x":{"datum":8,"type":"quantitative","axis":null},"y":{"field":"L","type":"quantitative"},"text":{"field":"t"}}},
{"data":{"name":"lab"},"mark":{"type":"text","align":"left","baseline":"middle","dx":43.2,"fontSize":20,"font":"DejaVu Sans","fontStyle":"italic","color":"#000000","text":"k"},
 "encoding":{"x":{"datum":8,"type":"quantitative","axis":null},"y":{"field":"L","type":"quantitative"}}},
{"data":{"values":[{"L":398}]},"mark":{"type":"text","align":"left","baseline":"middle","dx":5,"fontSize":20,"font":"DejaVu Sans","fontStyle":"italic","color":"#000000","text":"Re"},
 "encoding":{"x":{"datum":8,"type":"quantitative","axis":null},"y":{"field":"L","type":"quantitative"}}},
{"data":{"values":[{"L":398}]},"mark":{"type":"text","align":"left","baseline":"middle","dx":31,"dy":6,"fontSize":14,"font":"DejaVu Sans","fontStyle":"italic","color":"#000000","text":"c"},
 "encoding":{"x":{"datum":8,"type":"quantitative","axis":null},"y":{"field":"L","type":"quantitative"}}},
{"data":{"values":[{"L":-29}]},"mark":{"type":"text","align":"left","baseline":"middle","dx":-35,"dy":54,"fontSize":20,"font":"DejaVu Sans","fontStyle":"italic","color":"#000000","text":"f"},
 "encoding":{"x":{"datum":2,"type":"quantitative","axis":null},"y":{"field":"L","type":"quantitative"}}},
{"data":{"values":[{"L":-29}]},"mark":{"type":"text","align":"left","baseline":"middle","dx":-21,"dy":54,"fontSize":20,"font":"DejaVu Sans","color":"#000000","text":"[kHz]"},
 "encoding":{"x":{"datum":2,"type":"quantitative","axis":null},"y":{"field":"L","type":"quantitative"}}},
{"data":{"values":[{"L":191}]},"mark":{"type":"text","align":"left","baseline":"middle","angle":270,"dx":-34,"dy":-69,"fontSize":20,"font":"DejaVu Sans","fontStyle":"italic","color":"#000000","text":"L"},
 "encoding":{"x":{"datum":0.5,"type":"quantitative","axis":null},"y":{"field":"L","type":"quantitative"}}},
{"data":{"values":[{"L":191}]},"mark":{"type":"text","align":"left","baseline":"middle","angle":270,"dx":-22.9,"dy":-64,"fontSize":14,"font":"DejaVu Sans","fontStyle":"italic","color":"#000000","text":"p"},
 "encoding":{"x":{"datum":0.5,"type":"quantitative","axis":null},"y":{"field":"L","type":"quantitative"}}},
{"data":{"values":[{"L":191}]},"mark":{"type":"text","align":"left","baseline":"middle","angle":270,"dx":-7.6,"dy":-69,"fontSize":20,"font":"DejaVu Sans","color":"#000000","text":"[dB]"},
 "encoding":{"x":{"datum":0.5,"type":"quantitative","axis":null},"y":{"field":"L","type":"quantitative"}}}
],
"resolve":{"axis":{"x":"independent"}}
}
